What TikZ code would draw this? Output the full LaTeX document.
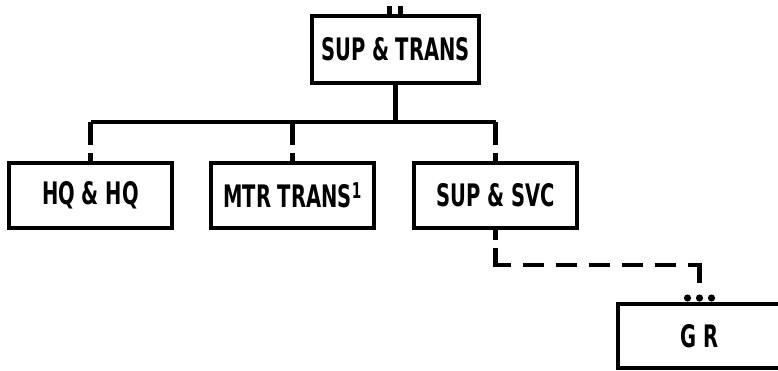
\documentclass[tikz,border=0pt]{standalone}
\usepackage{fontspec}
\setmainfont{DejaVu Sans Condensed}
\usepackage{graphicx}
\usepackage{tikz}
\usetikzlibrary{positioning}
\tikzset{d/.style={line width=4.5pt}}
\newcommand{\boxtext}[1]{\scalebox{0.7}[1]{#1}}

\begin{document}
\begin{tikzpicture}[
unitbox/.style={rectangle, draw=black, line width=3.3pt, minimum width=163pt, minimum height=65pt, inner sep=0pt, outer sep=0pt, font=\fontsize{31}{33}\selectfont\bfseries},
dashline/.style={d, dash pattern=on 12pt off 8pt on 32pt off 12pt on 21pt off 12pt on 21pt off 12pt on 21pt off 12pt on 21pt off 12pt on 21pt off 12pt on 40pt},
]
\useasboundingbox (0,0) rectangle (778pt,370pt);
%Nodes
\node[unitbox, minimum width=167pt, minimum height=67pt] (suptrans) at (395.5pt,320.5pt) {\boxtext{SUP \& TRANS}};
\node[unitbox]      (hqhq)          at (90.5pt,174.5pt) {\boxtext{HQ \& HQ}};
\node[unitbox]      (mtrtrans)      [right=39pt of hqhq] {\boxtext{MTR TRANS\textsuperscript{1}}};
\node[unitbox]      (supsvc)        [right=40pt of mtrtrans] {\boxtext{SUP \& SVC}};
\node[unitbox, minimum height=64pt] (gr) [below right=76pt and 41pt of supsvc] {\boxtext{G R}};
\coordinate (grin) at ([yshift=21pt]gr.north);

%Lines
\draw[d] ([xshift=-6pt]suptrans.north) -- ++(0,10pt);
\draw[d] ([xshift=5pt]suptrans.north) -- ++(0,10pt);
\draw[d] (suptrans.south) -- ++(0,-39pt) coordinate (bus);
\draw[d] (hqhq.north |- bus) -- (supsvc.north |- bus);
\foreach \n in {hqhq,mtrtrans,supsvc}
  \draw[d, dash pattern=on 23pt off 8pt on 10pt] (\n.north |- bus) -- (\n.north);
\draw[dashline] (supsvc.south) -- ++(0,-37pt) -| (grin);
\foreach \dx in {-12pt,0pt,12pt}
  \fill ([xshift=\dx,yshift=6pt]gr.north) circle (3.6pt);
\end{tikzpicture}
\end{document}
